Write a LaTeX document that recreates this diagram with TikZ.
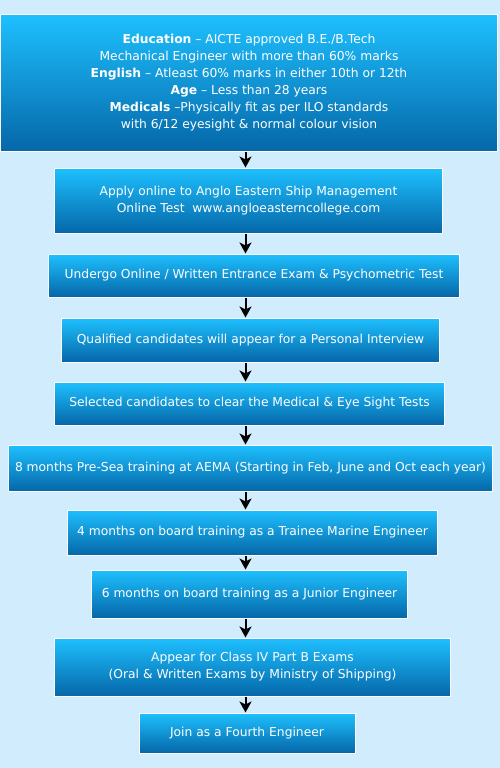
\documentclass[tikz,border=0pt]{standalone}
\usepackage{fontspec}
\setmainfont{DejaVu Sans}
\usetikzlibrary{arrows.meta}
\definecolor{bg}{RGB}{208,236,253}
\definecolor{boxtop}{RGB}{30,192,255}
\definecolor{boxbot}{RGB}{5,103,168}
\tikzset{
  stepbox/.style={draw=white, line width=1bp, top color=boxtop, bottom color=boxbot,
    text=white, align=center, inner sep=0pt,
    font=\fontsize{12.3bp}{17bp}\selectfont},
  flow/.style={line width=2bp, -{Stealth[length=11bp,width=12bp,inset=3bp]}}
}
\begin{document}
\begin{tikzpicture}[x=1bp,y=-1bp]
\fill[bg] (0,0) rectangle (500,768);
\useasboundingbox (0,0) rectangle (500,768);
\node[stepbox, minimum width=496bp, minimum height=136bp] (b1) at (249,83)
  {\textbf{Education} -- AICTE approved B.E./B.Tech\\
   Mechanical Engineer with more than 60\% marks\\
   \textbf{English} -- Atleast 60\% marks in either 10th or 12th\\
   \textbf{Age} -- Less than 28 years\\
   \textbf{Medicals} --Physically fit as per ILO standards\\
   with 6/12 eyesight \& normal colour vision};
\node[stepbox, minimum width=387bp, minimum height=65bp] (b2) at (248.5,200.5)
  {Apply online to Anglo Eastern Ship Management\\
   Online Test\ \ www.angloeasterncollege.com};
\node[stepbox, minimum width=410bp, minimum height=43bp] (b3) at (254,275.5)
  {Undergo Online / Written Entrance Exam \& Psychometric Test};
\node[stepbox, minimum width=377bp, minimum height=44bp] (b4) at (250.5,340)
  {Qualified candidates will appear for a Personal Interview};
\node[stepbox, minimum width=389bp, minimum height=43bp] (b5) at (249.5,403.5)
  {Selected candidates to clear the Medical \& Eye Sight Tests};
\node[stepbox, minimum width=483bp, minimum height=46bp] (b6) at (250.5,468)
  {8 months Pre-Sea training at AEMA (Starting in Feb, June and Oct each year)};
\node[stepbox, minimum width=369bp, minimum height=45bp] (b7) at (252.5,532.5)
  {4 months on board training as a Trainee Marine Engineer};
\node[stepbox, minimum width=315bp, minimum height=48bp] (b8) at (249.5,594)
  {6 months on board training as a Junior Engineer};
\node[stepbox, minimum width=395bp, minimum height=58bp] (b9) at (252.5,667)
  {Appear for Class IV Part B Exams\\
   (Oral \& Written Exams by Ministry of Shipping)};
\node[stepbox, minimum width=216bp, minimum height=40bp] (b10) at (247,733)
  {Join as a Fourth Engineer};
\coordinate (ax) at (245.5,0);
\foreach \a/\b in {b1/b2,b2/b3,b3/b4,b4/b5,b5/b6,b6/b7,b7/b8,b8/b9,b9/b10}
  \draw[flow] (\a.south -| ax) -- (\b.north -| ax);
\end{tikzpicture}
\end{document}
